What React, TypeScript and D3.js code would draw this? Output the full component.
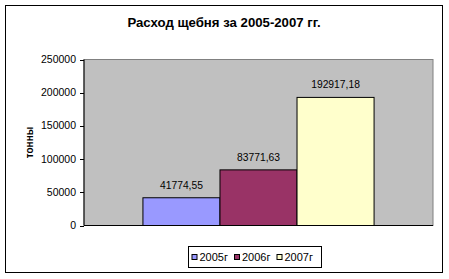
import React from "react";
import * as d3 from "d3";

const seriesNames = ["2005г", "2006г", "2007г"];
const values = [41774.55, 83771.63, 192917.18];
const valueLabels = ["41774,55", "83771,63", "192917,18"];
const colors = ["#9999FF", "#993366", "#FFFFCC"];
const yTicks = [0, 50000, 100000, 150000, 200000, 250000];
const title = "Расход щебня за 2005-2007 гг.";
const yTitle = "тонны";

const W = 449, H = 279;
const plot = { left: 84, right: 433, top: 59.5, bottom: 225.5 };
const font = "Liberation Sans, Arial, sans-serif";

export default function App() {
  const y = d3.scaleLinear().domain([0, 250000]).range([plot.bottom, plot.top]);
  const outer = d3.scaleBand().domain(["g"]).range([plot.left, plot.right]).paddingInner(0).paddingOuter(0.51 / 2);
  const groupX = outer("g")!;
  const groupW = outer.bandwidth();
  const x = d3.scaleBand().domain(seriesNames).range([groupX, groupX + groupW]).padding(0);

  const legendX = 188.5, legendY = 246.5, legendW = 133, legendH = 21;
  const legendItems = [199.5, 242, 284.5];

  return (
    <svg width={W} height={H} style={{ position: "absolute", left: 0, top: 0 }} fontFamily={font}>
      <rect x={0} y={0} width={W} height={H} fill="#fff" />
      <rect x={5.5} y={5.5} width={437} height={267} fill="#fff" stroke="#000" strokeWidth={1} />
      <text x={224} y={27} textAnchor="middle" fontSize={13.2} fontWeight="bold" fill="#000">{title}</text>
      <rect x={plot.left} y={plot.top} width={plot.right - plot.left} height={plot.bottom - plot.top} fill="#C0C0C0" stroke="#808080" strokeWidth={1} />
      {seriesNames.map((s, i) => (
        <g key={s}>
          <rect x={x(s)!} y={y(values[i])} width={x.bandwidth()} height={plot.bottom - y(values[i])} fill={colors[i]} stroke="#000" strokeWidth={1} />
          <text x={x(s)! + x.bandwidth() / 2} y={y(values[i]) - 9} textAnchor="middle" fontSize={10.3} fill="#000">{valueLabels[i]}</text>
        </g>
      ))}
      <line x1={plot.left} x2={plot.left} y1={plot.top} y2={plot.bottom} stroke="#000" />
      <line x1={plot.left} x2={plot.right} y1={plot.bottom} y2={plot.bottom} stroke="#000" />
      {yTicks.map((t) => (
        <g key={t}>
          <line x1={plot.left - 4} x2={plot.left} y1={Math.round(y(t)) + 0.5} y2={Math.round(y(t)) + 0.5} stroke="#000" />
          <text x={76} y={y(t) + 3.5} textAnchor="end" fontSize={10.5} fill="#000">{t}</text>
        </g>
      ))}
      <text transform={`translate(33,${(plot.top + plot.bottom) / 2}) rotate(-90)`} textAnchor="middle" fontSize={10} fontWeight="bold" fill="#000">{yTitle}</text>
      <rect x={legendX} y={legendY} width={legendW} height={legendH} fill="#fff" stroke="#000" />
      {seriesNames.map((s, i) => (
        <g key={s}>
          <rect x={legendItems[i] - 7.5} y={legendY + 8} width={5} height={5} fill={colors[i]} stroke="#000" />
          <text x={legendItems[i]} y={legendY + 14} fontSize={11} fill="#000">{s}</text>
        </g>
      ))}
    </svg>
  );
}
